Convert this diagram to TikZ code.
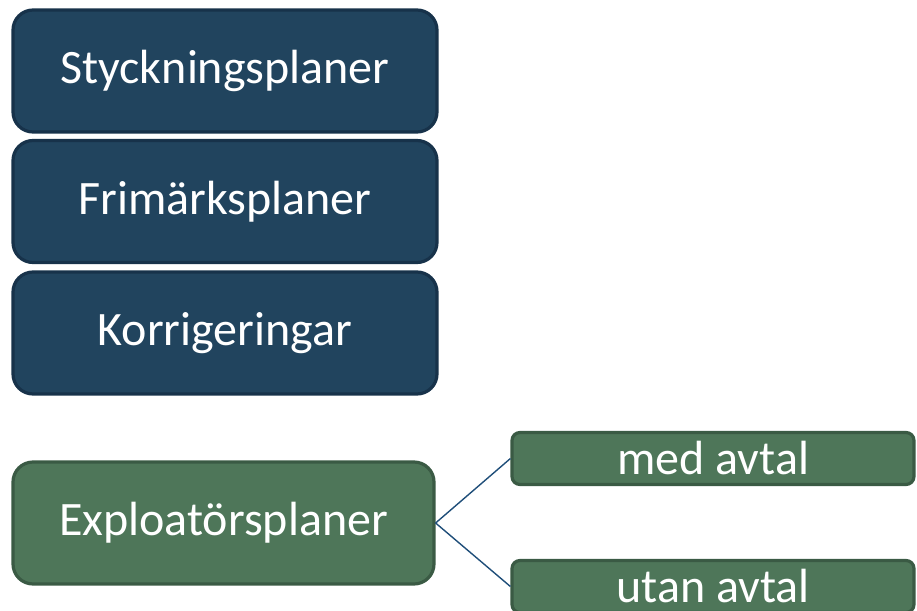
\documentclass[tikz,border=0pt]{standalone}
\usepackage{fontspec}
\setmainfont{Carlito}
\definecolor{bluefill}{HTML}{21445E}
\definecolor{blueedge}{HTML}{17324A}
\definecolor{greenfill}{HTML}{4E7659}
\definecolor{greenedge}{HTML}{3A5A44}
\definecolor{linkcol}{HTML}{1F4E79}
\begin{document}
\begin{tikzpicture}[x=1pt,y=-1pt,
    planbox/.style={draw=blueedge, fill=bluefill, line width=3.2pt, rounded corners=20pt,
      minimum width=424pt, minimum height=122pt, text=white, font=\fontsize{48}{54}\selectfont},
    exbox/.style={planbox, draw=greenedge, fill=greenfill},
    subbox/.style={exbox, rounded corners=8pt, minimum width=402pt, minimum height=52pt, inner sep=0pt}]
      \clip (0,0) rectangle (917,610);
      \useasboundingbox (0,0) rectangle (917,610);
      \node[planbox] (styck) at (225,71) {Styckningsplaner};
      \node[planbox] (frim) at (225,201.5) {Frimärksplaner};
      \node[planbox] (korr) at (225,333) {Korrigeringar};
      \node[exbox, minimum width=421pt] (expl) at (223.5,523) {Exploatörsplaner};
      \node[subbox] (med) at (713,458.5) {med avtal};
      \node[subbox] (utan) at (713,586.5) {utan avtal};
      \draw[linkcol, line width=1.4pt] (expl.east) -- (med.west);
      \draw[linkcol, line width=1.4pt] (expl.east) -- (utan.west);
    \end{tikzpicture}
\end{document}
